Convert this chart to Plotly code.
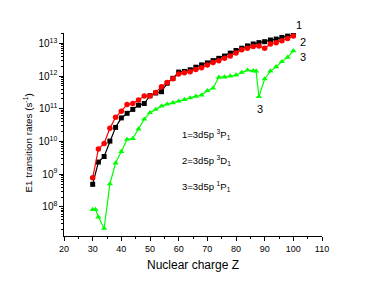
import plotly.graph_objects as go

# Nuclear charge Z
z_black = [30, 32, 34, 36, 38, 40, 42, 44, 46, 48, 50, 52, 54, 56, 58, 60, 62, 64, 66, 68,
           70, 72, 74, 76, 78, 80, 82, 84, 86, 88, 90, 92, 94, 96, 98, 100]
# log10 of rates
log_black = [8.69, 9.37, 9.54, 10.01, 10.43, 10.72, 10.86, 10.98, 11.11, 11.16, 11.40, 11.48,
             11.52, 11.78, 11.93, 12.12, 12.14, 12.19, 12.27, 12.34, 12.40, 12.47, 12.54, 12.61,
             12.70, 12.78, 12.85, 12.92, 12.98, 13.02, 13.05, 13.10, 13.13, 13.18, 13.22, 13.26]

z_red = z_black
log_red = [8.89, 9.77, 9.94, 10.40, 10.74, 10.92, 11.13, 11.16, 11.27, 11.39, 11.39, 11.50,
           11.67, 11.80, 11.92, 12.06, 12.10, 12.13, 12.20, 12.25, 12.34, 12.41, 12.47, 12.54,
           12.61, 12.70, 12.80, 12.85, 12.90, 12.92, 12.85, 12.98, 13.02, 13.08, 13.15, 13.22]

z_green = [30, 31, 32, 34, 36, 38, 40, 42, 44, 46, 48, 50, 52, 54, 56, 58, 60, 62, 64, 66, 68,
           70, 72, 74, 76, 78, 80, 82, 84, 86, 87, 88, 90, 92, 94, 96, 98, 100]
log_green = [7.92, 7.92, 7.69, 7.34, 8.70, 9.34, 9.69, 10.06, 10.09, 10.38, 10.68, 10.88, 10.98,
             11.08, 11.14, 11.18, 11.23, 11.28, 11.33, 11.38, 11.42, 11.55, 11.63, 11.96, 11.97,
             12.00, 12.03, 12.11, 12.18, 12.16, 12.15, 11.37, 11.91, 12.15, 12.28, 12.44, 12.57,
             12.77]

black_vals = [10 ** v for v in log_black]
red_vals = [10 ** v for v in log_red]
green_vals = [10 ** v for v in log_green]

FONT = "Liberation Sans, Arial, sans-serif"

fig = go.Figure()
fig.add_trace(go.Scatter(x=z_black, y=black_vals, mode="lines+markers",
                         line=dict(color="#000000", width=1.2),
                         marker=dict(symbol="square", size=5, color="#000000")))
fig.add_trace(go.Scatter(x=z_red, y=red_vals, mode="lines+markers",
                         line=dict(color="#ff0000", width=1.2),
                         marker=dict(symbol="circle", size=5.5, color="#ff0000")))
fig.add_trace(go.Scatter(x=z_green, y=green_vals, mode="lines+markers",
                         line=dict(color="#00ff00", width=1.2),
                         marker=dict(symbol="triangle-up", size=5.5, color="#00ff00")))

# curve end labels
fig.add_annotation(x=0.912, y=1.037, xref="paper", yref="paper", text="1", showarrow=False,
                   xanchor="center", yanchor="middle",
                   font=dict(size=11, color="#000", family=FONT))
annos = [
    dict(x=103.3, y=13.05, text="2"),
    dict(x=103.3, y=12.59, text="3"),
    dict(x=88.4, y=11.0, text="3"),
]
for a in annos:
    fig.add_annotation(x=a["x"], y=a["y"], text=a["text"], showarrow=False,
                       xref="x", yref="y", xanchor="center", yanchor="middle",
                       font=dict(size=11, color="#000", family=FONT))

legend_lines = [
    ("1=3d5p <sup>3</sup>P<sub>1</sub>", 10.22),
    ("2=3d5p <sup>3</sup>D<sub>1</sub>", 9.43),
    ("3=3d5p <sup>1</sup>P<sub>1</sub>", 8.63),
]
for txt, yy in legend_lines:
    fig.add_annotation(x=60.4, y=yy, text=txt, showarrow=False, xref="x", yref="y",
                       xanchor="left", font=dict(size=9.5, color="#000", family=FONT))

# y-axis title
fig.add_annotation(x=-0.14, y=0.46, xref="paper", yref="paper",
                   text="E1 transition rates (s<sup>-1</sup>)", textangle=-90,
                   showarrow=False, xanchor="center", yanchor="middle",
                   font=dict(size=9.8, color="#000", family=FONT))

# page body has an 8px default margin, so the figure is sized/offset to compensate
fig.update_layout(
    width=366, height=278,
    margin=dict(l=56, r=52, t=25, b=50),
    paper_bgcolor="white", plot_bgcolor="white",
    showlegend=False,
    font=dict(family=FONT, color="#000"),
)
fig.update_xaxes(range=[20, 110], dtick=10, tick0=20, showline=True, linecolor="#000",
                 linewidth=1, ticks="outside", ticklen=4, tickcolor="#000",
                 showgrid=False, zeroline=False, tickfont=dict(size=9), automargin=False,
                 minor=dict(ticks="outside", ticklen=2, dtick=5, tickcolor="#000"),
                 title=dict(text="Nuclear charge Z", font=dict(size=12), standoff=7))
fig.update_yaxes(type="log", range=[7.11, 13.315], dtick=1, showline=True, linecolor="#000",
                 linewidth=1, ticks="outside", ticklen=4, tickcolor="#000",
                 showgrid=False, zeroline=False, exponentformat="power",
                 tickfont=dict(size=8), automargin=False,
                 minor=dict(ticks="outside", ticklen=2, dtick="D1", tickcolor="#000"))

fig.write_html("out.html")
